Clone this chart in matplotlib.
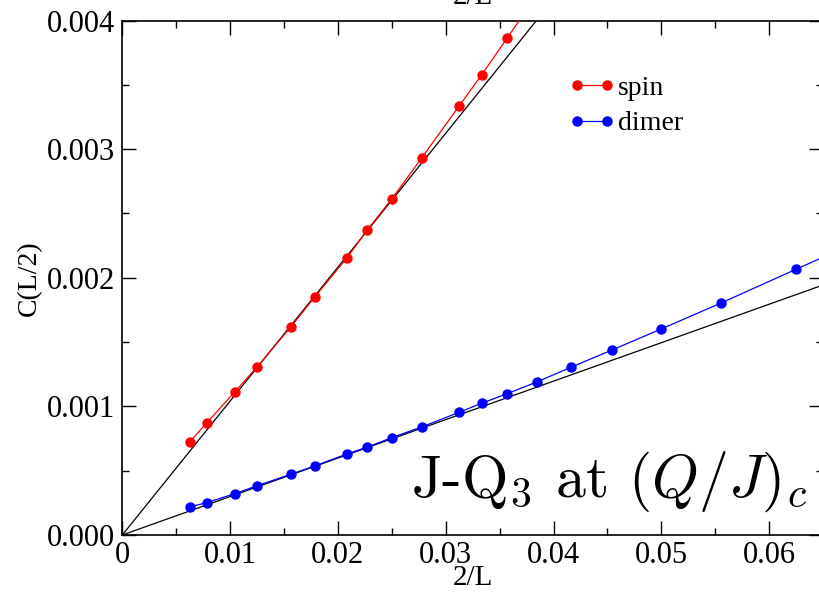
import numpy as np
import matplotlib
matplotlib.use("Agg")
import matplotlib.pyplot as plt
from matplotlib.ticker import MultipleLocator
from matplotlib.lines import Line2D
from matplotlib.legend_handler import HandlerLine2D

plt.rcParams['font.family'] = ['Liberation Serif', 'DejaVu Serif']
plt.rcParams['mathtext.fontset'] = 'cm'

# system sizes, x axis is 2/L
L_spin = np.array([320, 256, 192, 160, 128, 112, 96, 88, 80, 72, 64, 60, 56, 52])
L_dimer = np.array([320, 256, 192, 160, 128, 112, 96, 88, 80, 72, 64, 60, 56, 52,
                    48, 44, 40, 36, 32, 30])

spin_c = [0.000722, 0.000870, 0.001111, 0.001306, 0.001617, 0.001851, 0.002154,
          0.002372, 0.002613, 0.002932, 0.003336, 0.003577, 0.003865, 0.004200]
dimer_c = [0.000218, 0.000251, 0.000321, 0.000383, 0.000472, 0.000537, 0.000630,
           0.000684, 0.000757, 0.000840, 0.000954, 0.001024, 0.001099, 0.001190,
           0.001306, 0.001439, 0.001602, 0.001804, 0.002066, 0.002222]

# slopes of the linear fits through the origin
fit_slopes = [0.1041, 0.0299]

fig = plt.figure(figsize=(8.19, 5.95), dpi=100)
ax = fig.add_axes([122.3 / 819, 60 / 595, 700.7 / 819, 514.5 / 595])

xfit = np.array([0.0, 0.065])
for s in fit_slopes:
    ax.plot(xfit, s * xfit, color='black', lw=0.9, zorder=2)

ax.plot(2.0 / L_spin, spin_c, '-o', color='red', lw=0.9, ms=6.5, label='spin', zorder=3)
ax.plot(2.0 / L_dimer, dimer_c, '-o', color='blue', lw=0.9, ms=6.5, label='dimer', zorder=3)

ax.set_xlim(0, 0.065)
ax.set_ylim(0, 0.004)
ax.xaxis.set_minor_locator(MultipleLocator(0.005))
ax.yaxis.set_minor_locator(MultipleLocator(0.0005))
ax.set_xticks(np.arange(0, 0.0651, 0.01))
ax.set_xticklabels(['0', '0.01', '0.02', '0.03', '0.04', '0.05', '0.06'])
ax.set_yticks(np.arange(0, 0.00401, 0.001))
ax.set_yticklabels(['0.000', '0.001', '0.002', '0.003', '0.004'])
ax.tick_params(which='both', direction='in', top=True, right=True, width=1.0)
ax.tick_params(which='major', length=10, labelsize=22, pad=5)
ax.tick_params(axis='x', which='major', pad=4)
ax.tick_params(which='minor', length=5)
for sp in ax.spines.values():
    sp.set_linewidth(1.2)

ax.set_xlabel('2/L', fontsize=21, labelpad=-3)
ax.set_ylabel('C(L/2)', fontsize=20, labelpad=4)
# top axis label, mostly cut off by the figure edge
ax.text(0.5, 1.032, '2/L', transform=ax.transAxes, ha='center', va='baseline',
        fontsize=21, clip_on=False)

ax.legend(loc='upper left', bbox_to_anchor=(0.6485, 0.893), frameon=False,
          fontsize=20, handlelength=1.08, handletextpad=0.4, labelspacing=0.36,
          borderpad=0, borderaxespad=0, numpoints=2,
          handler_map={Line2D: HandlerLine2D(marker_pad=0)})

ax.text(0.977, 0.074, r'J-Q$_3$ at $(Q/J)_c$', transform=ax.transAxes,
        ha='right', va='baseline', fontsize=43, family='cmr10')

fig.savefig('out.png', dpi=100)
